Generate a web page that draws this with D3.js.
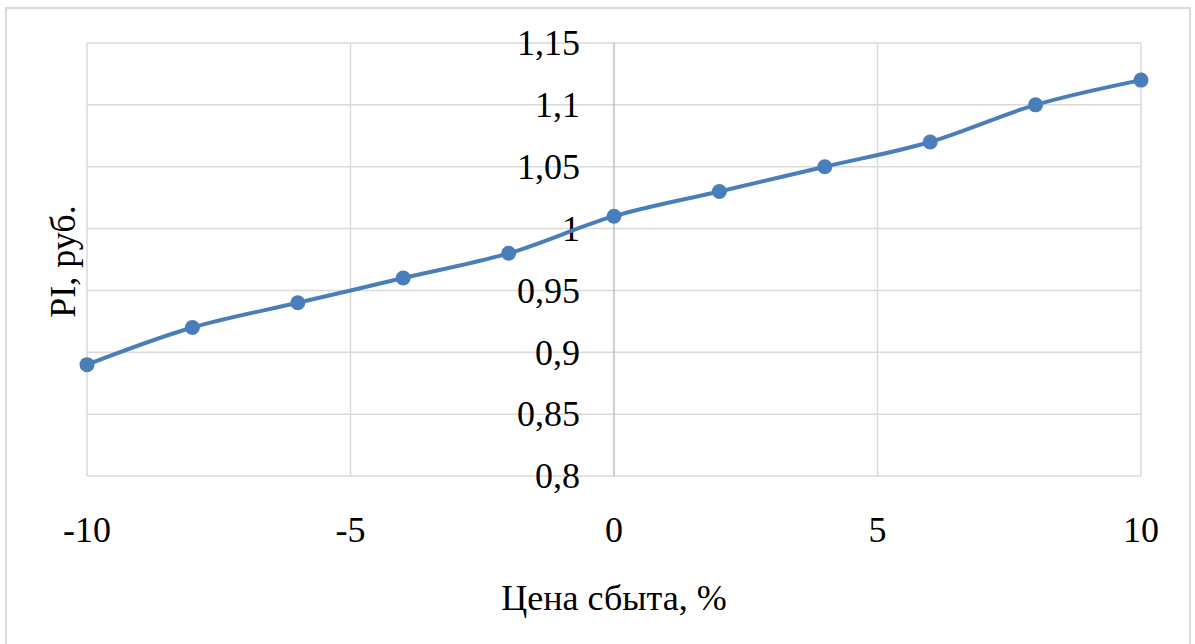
<!DOCTYPE html>
<html>
<head>
<meta charset="utf-8">
<script src="https://cdn.jsdelivr.net/npm/d3@7"></script>
<style>
  html, body { margin: 0; padding: 0; background: #fff; }
  svg { display: block; }
</style>
</head>
<body>
<svg id="chart" width="1195" height="644"></svg>
<script>
// Price change (%) and resulting profitability index
const priceChange = [-10, -8, -6, -4, -2, 0, 2, 4, 6, 8, 10];
const piValues = [0.89, 0.92, 0.94, 0.96, 0.98, 1.01, 1.03, 1.05, 1.07, 1.10, 1.12];
const xTicks = [-10, -5, 0, 5, 10];
const yTicks = [0.8, 0.85, 0.9, 0.95, 1, 1.05, 1.1, 1.15];
const xTitle = "Цена сбыта, %";
const yTitle = "PI, руб.";

const FONT = "'Liberation Serif', 'Times New Roman', Tinos, 'DejaVu Serif', serif";

const svg = d3.select("#chart")
  .style("font-family", FONT);
const plot = { left: 87, right: 1141, top: 43, bottom: 476 };

const x = d3.scaleLinear().domain([-10, 10]).range([plot.left, plot.right]);
const y = d3.scaleLinear().domain([0.8, 1.15]).range([plot.bottom, plot.top]);

const fmt = v => String(+v.toFixed(2)).replace(".", ",");

// Chart frame
svg.append("rect")
  .attr("x", 6).attr("y", 8)
  .attr("width", 1184).attr("height", 660)
  .attr("fill", "#fff").attr("stroke", "#d9d9d9").attr("stroke-width", 2);

// Horizontal gridlines
svg.append("g").selectAll("line").data(yTicks).join("line")
  .attr("x1", plot.left).attr("x2", plot.right)
  .attr("y1", d => y(d)).attr("y2", d => y(d))
  .attr("stroke", "#d9d9d9").attr("stroke-width", 1.5);

// Vertical gridlines
svg.append("g").selectAll("line").data(xTicks.filter(d => d !== 0)).join("line")
  .attr("x1", d => x(d)).attr("x2", d => x(d))
  .attr("y1", plot.top).attr("y2", plot.bottom)
  .attr("stroke", "#d9d9d9").attr("stroke-width", 1.5);

// Value axis crossing at zero
svg.append("line")
  .attr("x1", x(0)).attr("x2", x(0))
  .attr("y1", plot.top).attr("y2", plot.bottom)
  .attr("stroke", "#bfbfbf").attr("stroke-width", 1.5);

function label(sel) {
  return sel.attr("font-family", FONT).attr("font-size", 36).attr("fill", "#000");
}

// Y tick labels, left of the zero axis
svg.append("g").selectAll("text").data(yTicks).join("text")
  .call(label)
  .attr("x", x(0) - 34)
  .attr("y", d => y(d))
  .attr("dy", "0.34em")
  .attr("text-anchor", "end")
  .text(fmt);

// X tick labels
svg.append("g").selectAll("text").data(xTicks).join("text")
  .call(label)
  .attr("x", d => x(d))
  .attr("y", 542)
  .attr("text-anchor", "middle")
  .text(d => d);

// Axis titles
svg.append("text")
  .call(label)
  .attr("x", x(0)).attr("y", 610)
  .attr("text-anchor", "middle")
  .text(xTitle);

svg.append("text")
  .call(label)
  .attr("transform", `translate(75, ${(plot.top + plot.bottom) / 2 + 2}) rotate(-90)`)
  .attr("text-anchor", "middle")
  .text(yTitle);

// Smoothed series line
const data = priceChange.map((p, i) => ({ p, v: piValues[i] }));
const line = d3.line()
  .x(d => x(d.p))
  .y(d => y(d.v))
  .curve(d3.curveCatmullRom.alpha(0.5));

svg.append("path")
  .datum(data)
  .attr("d", line)
  .attr("fill", "none")
  .attr("stroke", "#4a7ebb")
  .attr("stroke-width", 4)
  .attr("stroke-linejoin", "round");

// Markers
svg.append("g").selectAll("circle").data(data).join("circle")
  .attr("cx", d => x(d.p))
  .attr("cy", d => y(d.v))
  .attr("r", 7.5)
  .attr("fill", "#4a7ebb");
</script>
</body>
</html>
